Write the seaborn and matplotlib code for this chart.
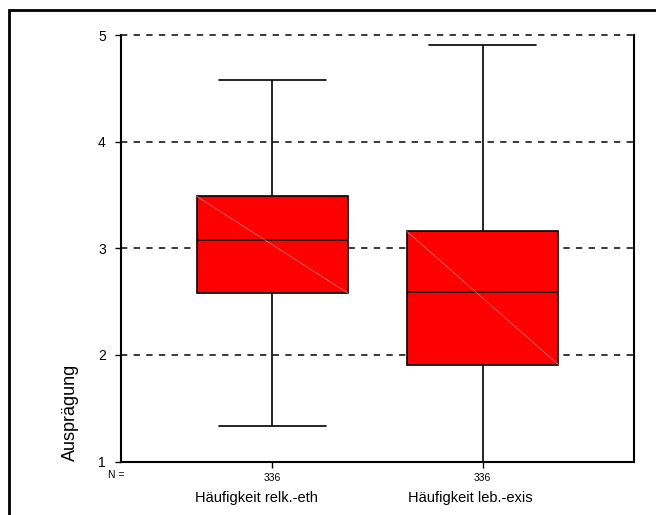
import matplotlib
matplotlib.use("Agg")
import matplotlib.pyplot as plt
import seaborn as sns
import pandas as pd
from matplotlib.patches import Rectangle

# Five-number summaries (min, Q1, median, Q3, max) per variable
categories = ["Häufigkeit relk.-eth", "Häufigkeit leb.-exis"]
relk_eth = [1.33, 2.58, 3.08, 3.49, 4.58]
leb_exis = [1.00, 1.91, 2.59, 3.16, 4.91]
n_counts = [336, 336]
y_ticks = [1, 2, 3, 4, 5]

df = pd.DataFrame({
    "item": [categories[0]] * len(relk_eth) + [categories[1]] * len(leb_exis),
    "value": relk_eth + leb_exis,
})

sns.set_theme(style="white")
plt.rcParams["font.family"] = ["Liberation Sans", "DejaVu Sans"]
plt.rcParams["text.color"] = "black"
plt.rcParams["xtick.color"] = "black"
plt.rcParams["ytick.color"] = "black"

fig = plt.figure(figsize=(6.56, 5.15), dpi=100)
ax = fig.add_axes([121 / 656, 1 - 461.5 / 515, 513 / 656, 426 / 515])

box_w = 0.72
sns.boxplot(data=df, x="item", y="value", ax=ax, color="#ff0000",
            width=box_w, whis=(0, 100), showfliers=False, saturation=1,
            linecolor="black", linewidth=1.2,
            boxprops=dict(edgecolor="black"),
            medianprops=dict(color="black", linewidth=1.2),
            whiskerprops=dict(color="black", linewidth=1.2),
            capprops=dict(color="black", linewidth=1.2))

# widen the whisker caps
cap_half = 0.255
for line in ax.lines:
    xd, yd = line.get_xdata(), line.get_ydata()
    if len(xd) == 2 and yd[0] == yd[1]:
        cx = (xd[0] + xd[1]) / 2
        span = abs(xd[1] - xd[0])
        if span < box_w * 0.9:
            line.set_xdata([cx - cap_half, cx + cap_half])

# faint diagonal across each box fill
for i, vals in enumerate([relk_eth, leb_exis]):
    ax.plot([i - box_w / 2, i + box_w / 2], [vals[3], vals[1]],
            color="#ff8080", linewidth=0.5, zorder=3)

ax.set_xlim(-0.72, 1.72)
ax.set_ylim(1, 5)
ax.set_yticks(y_ticks)
ax.set_yticklabels([str(t) for t in y_ticks], fontsize=10)
ax.set_xticks([0, 1])
ax.set_xticklabels([str(n) for n in n_counts], fontsize=7.5)
ax.tick_params(axis="y", direction="out", length=4, width=1, left=True, pad=7)
ax.tick_params(axis="x", direction="out", length=4, width=1, bottom=True, pad=4)

for y in y_ticks:
    ax.axhline(y, color="#2a2a2a", linewidth=1.3, linestyle=(0, (3.5, 3.5)),
               zorder=0.5, clip_on=False)

ax.spines["top"].set_visible(False)
for side in ["left", "right", "bottom"]:
    ax.spines[side].set_color("black")
    ax.spines[side].set_linewidth(1.5)

ax.set_xlabel("")
ax.set_ylabel("")

fig.text(70 / 656, 1 - 461 / 515, "Ausprägung", rotation=90, fontsize=13,
         ha="center", va="bottom")
fig.text(116 / 656, 1 - 475 / 515, "N =", fontsize=7.5, ha="center", va="center")
fig.text(256 / 656, 1 - 498 / 515, categories[0], fontsize=10.5,
         ha="center", va="center")
fig.text(470 / 656, 1 - 498 / 515, categories[1], fontsize=10.5,
         ha="center", va="center")

# outer frame around the graphic
fig.patches.append(Rectangle((9 / 656, -0.1), 1.2, 1 - 10 / 515 + 0.1,
                             transform=fig.transFigure, fill=False,
                             edgecolor="black", linewidth=2))

fig.savefig("out.png", dpi=100, facecolor="white")
